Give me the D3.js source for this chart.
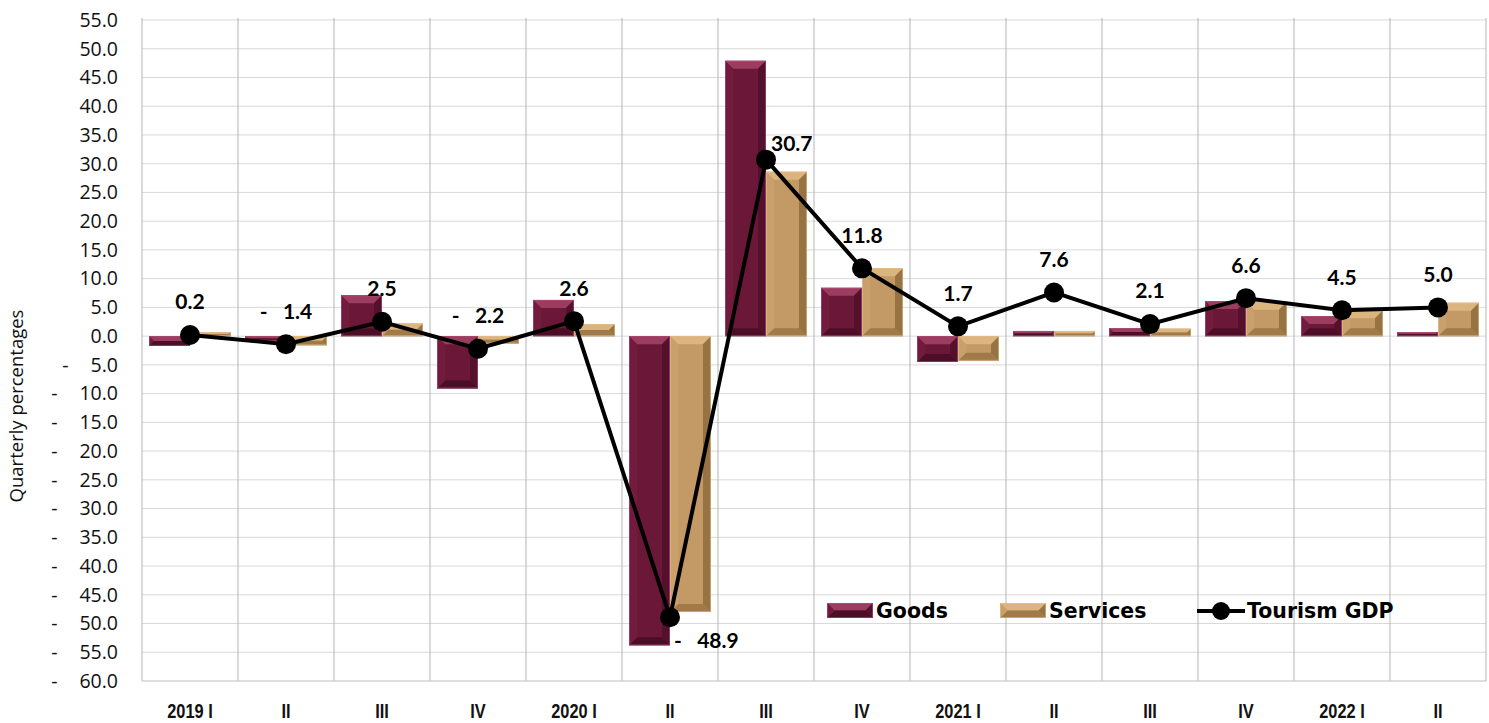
<!DOCTYPE html>
<html>
<head>
<meta charset="utf-8">
<script src="https://cdn.jsdelivr.net/npm/d3@7"></script>
<style>
  body { margin: 0; background: #fff; }
  svg { display: block; }
  text { white-space: pre; }
</style>
</head>
<body>
<svg id="chart" width="1489" height="723"></svg>
<script>
// data
const categories = ["2019 I", "II", "III", "IV", "2020 I", "II", "III", "IV", "2021 I", "II", "III", "IV", "2022 I", "II"];
const goods = [-1.7, -0.8, 7.1, -9.1, 6.3, -53.8, 47.9, 8.4, -4.5, 0.9, 1.4, 6.1, 3.5, 0.7];
const services = [0.7, -1.6, 2.2, -1.3, 2.1, -48.0, 28.6, 11.8, -4.3, 0.9, 1.3, 6.0, 4.5, 5.8];
const tourismGdp = [0.2, -1.4, 2.5, -2.2, 2.6, -48.9, 30.7, 11.8, 1.7, 7.6, 2.1, 6.6, 4.5, 5.0];
const yTicks = d3.range(-60, 56, 5);
const seriesNames = ["Goods", "Services", "Tourism GDP"];

const svg = d3.select("#chart");
const plotL = 142, plotR = 1486, plotT = 20, plotB = 681;

const x0 = d3.scaleBand().domain(d3.range(categories.length)).range([plotL, plotR]);
const x1 = d3.scaleBand().domain(["goods", "services"]).range([7, x0.bandwidth() - 7]);
const y = d3.scaleLinear().domain([-60, 55]).range([plotB, plotT]);

// bevel colours for the Excel-ish 3d bars
const pal = {
  goods:    { main: "#6b1738", top: "#9c3c5e", left: "#731b3e", right: "#54102c", bot: "#4c0e27", edge: "#b0557a" },
  services: { main: "#c39966", top: "#dcb47e", left: "#c9a06b", right: "#977343", bot: "#a07a49", edge: "#e3c290" }
};

function bevelBar(g, x, yy, w, h, c) {
  const b = Math.min(8, h / 2, w / 2);
  const grp = g.append("g");
  grp.append("rect").attr("x", x).attr("y", yy).attr("width", w).attr("height", h).attr("fill", c.main);
  const polys = [
    [[x, yy], [x + w, yy], [x + w - b, yy + b], [x + b, yy + b], c.top],
    [[x, yy + h], [x + w, yy + h], [x + w - b, yy + h - b], [x + b, yy + h - b], c.bot],
    [[x, yy], [x + b, yy + b], [x + b, yy + h - b], [x, yy + h], c.left],
    [[x + w, yy], [x + w - b, yy + b], [x + w - b, yy + h - b], [x + w, yy + h], c.right]
  ];
  polys.forEach(p => {
    grp.append("polygon")
      .attr("points", p.slice(0, 4).map(q => q.join(",")).join(" "))
      .attr("fill", p[4]);
  });
  grp.append("rect").attr("x", x + 0.5).attr("y", yy + 0.5)
    .attr("width", Math.max(0, w - 1)).attr("height", Math.max(0, h - 1))
    .attr("fill", "none").attr("stroke", c.edge).attr("stroke-width", 1).attr("stroke-opacity", 0.6);
}

// horizontal grid
svg.append("g").selectAll("line").data(yTicks).join("line")
  .attr("x1", plotL).attr("x2", plotR)
  .attr("y1", d => y(d)).attr("y2", d => y(d))
  .attr("stroke", "#d9d9d9").attr("stroke-width", 1);

// vertical category separators
svg.append("g").selectAll("line").data(d3.range(categories.length + 1)).join("line")
  .attr("x1", i => plotL + i * x0.step()).attr("x2", i => plotL + i * x0.step())
  .attr("y1", plotT - 2).attr("y2", plotB)
  .attr("stroke", "#b4b4b4").attr("stroke-width", 1);

svg.append("line").attr("x1", plotL).attr("x2", plotR).attr("y1", plotB).attr("y2", plotB)
  .attr("stroke", "#d0d0d0");

// y tick labels (accounting style: dash set off to the left)
const yLab = svg.append("g").attr("font-family", "'Open Sans', sans-serif").attr("font-size", 19.5).attr("fill", "#111");
yTicks.forEach(t => {
  const tx = yLab.append("text").attr("x", 118).attr("y", y(t)).attr("dy", "0.35em")
    .attr("text-anchor", "end").text(d3.format(".1f")(Math.abs(t)));
  if (t < 0) {
    const w = tx.node().getComputedTextLength();
    yLab.append("text").attr("x", 118 - w - 22).attr("y", y(t)).attr("dy", "0.35em")
      .attr("text-anchor", "end").text("-");
  }
});

svg.append("text")
  .attr("transform", "translate(23,406) rotate(-90)")
  .attr("text-anchor", "middle")
  .attr("font-family", "'Open Sans', sans-serif").attr("font-size", 18.5).attr("fill", "#111")
  .text("Quarterly percentages");

// x labels (narrowed bold)
svg.append("g").selectAll("text").data(categories).join("text")
  .attr("transform", (d, i) => `translate(${x0(i) + x0.bandwidth() / 2},711) scale(0.82,1)`)
  .attr("text-anchor", "middle").attr("dy", "0.35em")
  .attr("font-family", "'Liberation Sans', sans-serif")
  .attr("font-weight", "bold").attr("font-size", 20).attr("fill", "#111")
  .text(d => d);

// bars
const barG = svg.append("g");
categories.forEach((c, i) => {
  [["goods", goods[i]], ["services", services[i]]].forEach(([k, v]) => {
    const yy = Math.min(y(v), y(0));
    const h = Math.abs(y(v) - y(0));
    bevelBar(barG, x0(i) + x1(k), yy, x1.bandwidth(), h, pal[k]);
  });
});

// tourism GDP line
const cx = i => x0(i) + x0.bandwidth() / 2;
svg.append("path")
  .datum(tourismGdp)
  .attr("d", d3.line().x((d, i) => cx(i)).y(d => y(d)))
  .attr("fill", "none").attr("stroke", "#000").attr("stroke-width", 4);
svg.append("g").selectAll("circle").data(tourismGdp).join("circle")
  .attr("cx", (d, i) => cx(i)).attr("cy", d => y(d)).attr("r", 10).attr("fill", "#000");

// data labels
const special = { 5: { dx: 4, dy: 23, anchor: "start" }, 6: { dx: 5, dy: -16, anchor: "start" } };
const fmt = v => (v < 0 ? "-   " : "") + d3.format(".1f")(Math.abs(v));
svg.append("g").selectAll("text").data(tourismGdp).join("text")
  .attr("x", (d, i) => cx(i) + (special[i] ? special[i].dx : 0))
  .attr("y", (d, i) => y(d) + (special[i] ? special[i].dy : -33))
  .attr("dy", "0.35em")
  .attr("text-anchor", (d, i) => special[i] ? special[i].anchor : "middle")
  .attr("font-family", "Lato, sans-serif").attr("font-weight", "bold").attr("font-size", 21).attr("fill", "#000")
  .text(d => fmt(d));

// legend
const lg = svg.append("g").attr("font-family", "'DejaVu Sans', sans-serif").attr("font-weight", "bold")
  .attr("font-size", 20.5).attr("fill", "#000");
bevelBar(lg, 827, 603, 46, 15, pal.goods);
lg.append("text").attr("x", 876).attr("y", 611).attr("dy", "0.36em").text(seriesNames[0]);
bevelBar(lg, 1000, 603, 46, 15, pal.services);
lg.append("text").attr("x", 1049).attr("y", 611).attr("dy", "0.36em").text(seriesNames[1]);
lg.append("line").attr("x1", 1197).attr("x2", 1245).attr("y1", 611).attr("y2", 611)
  .attr("stroke", "#000").attr("stroke-width", 4);
lg.append("circle").attr("cx", 1221).attr("cy", 611).attr("r", 9).attr("fill", "#000");
lg.append("text").attr("x", 1247).attr("y", 611).attr("dy", "0.36em").text(seriesNames[2]);
</script>
</body>
</html>
